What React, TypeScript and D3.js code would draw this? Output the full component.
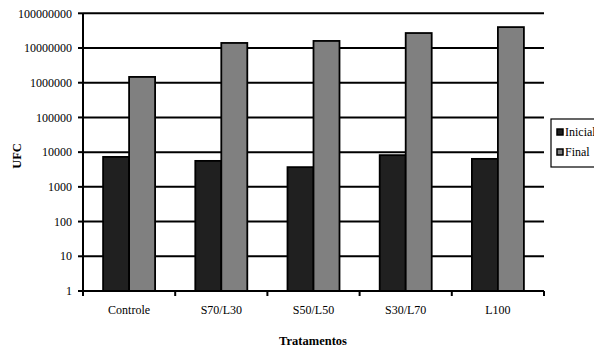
import React from "react";
import * as d3 from "d3";

const categories = ["Controle", "S70/L30", "S50/L50", "S30/L70", "L100"];
const inicial = [7300, 5600, 3700, 8200, 6400];
const final = [1470000, 14000000, 16000000, 27000000, 40000000];
const yTicks = [1, 10, 100, 1000, 10000, 100000, 1000000, 10000000, 100000000];
const seriesNames = ["Inicial", "Final"];
const seriesColors = ["#202020", "#808080"];

export default function App() {
  const W = 594, H = 349;
  const left = 83, right = 544, top = 13.3, bottom = 291;
  const x = d3.scaleBand<string>().domain(categories).range([left, right]).paddingInner(0).paddingOuter(0);
  const y = d3.scaleLog().domain([1, 100000000]).range([bottom, top]);
  const barW = 26;
  const font = "Liberation Serif";
  const series = [inicial, final];
  return (
    <svg width={W} height={H} style={{ position: "absolute", left: 0, top: 0 }}>
      <rect x={0} y={0} width={W} height={H} fill="#fff" />
      {yTicks.slice(1).map((t) => (
        <line key={t} x1={left} x2={right} y1={y(t)} y2={y(t)} stroke="#000" strokeWidth={2} />
      ))}
      {categories.map((c, i) => {
        const bx = (x(c) as number) + x.bandwidth() / 2 - barW;
        return series.map((s, k) => (
          <rect
            key={c + k}
            x={bx + k * barW}
            y={y(s[i])}
            width={barW}
            height={bottom - y(s[i])}
            fill={seriesColors[k]}
            stroke="#000"
            strokeWidth={1.8}
          />
        ));
      })}
      <line x1={left} x2={left} y1={top} y2={bottom} stroke="#000" strokeWidth={2} />
      <line x1={left} x2={right} y1={bottom} y2={bottom} stroke="#000" strokeWidth={2} />
      {yTicks.map((t) => (
        <g key={"yt" + t}>
          <line x1={left - 5} x2={left} y1={y(t)} y2={y(t)} stroke="#000" strokeWidth={2} />
          <text x={72} y={y(t)} dy="0.35em" textAnchor="end" style={{ fontFamily: font, fontSize: 12 }}>
            {String(t)}
          </text>
        </g>
      ))}
      {[...categories.map((c) => x(c) as number), right].map((p, i) => (
        <line key={"xt" + i} x1={p} x2={p} y1={bottom} y2={bottom + 5} stroke="#000" strokeWidth={2} />
      ))}
      {categories.map((c) => (
        <text key={"xl" + c} x={(x(c) as number) + x.bandwidth() / 2} y={314} textAnchor="middle" style={{ fontFamily: font, fontSize: 12 }}>
          {c}
        </text>
      ))}
      <text x={313} y={345} textAnchor="middle" style={{ fontFamily: font, fontSize: 12.5, fontWeight: "bold" }}>
        Tratamentos
      </text>
      <text transform={`translate(21,156) rotate(-90)`} textAnchor="middle" style={{ fontFamily: font, fontSize: 12.5, fontWeight: "bold" }}>
        UFC
      </text>
      <rect x={551} y={119} width={60} height={48} fill="#fff" stroke="#000" strokeWidth={1.2} />
      {seriesNames.map((n, k) => (
        <g key={n}>
          <rect x={557} y={129 + k * 20} width={6} height={6} fill={seriesColors[k]} stroke="#000" strokeWidth={1.5} />
          <text x={565} y={136 + k * 20} style={{ fontFamily: font, fontSize: 12 }}>
            {n}
          </text>
        </g>
      ))}
    </svg>
  );
}
